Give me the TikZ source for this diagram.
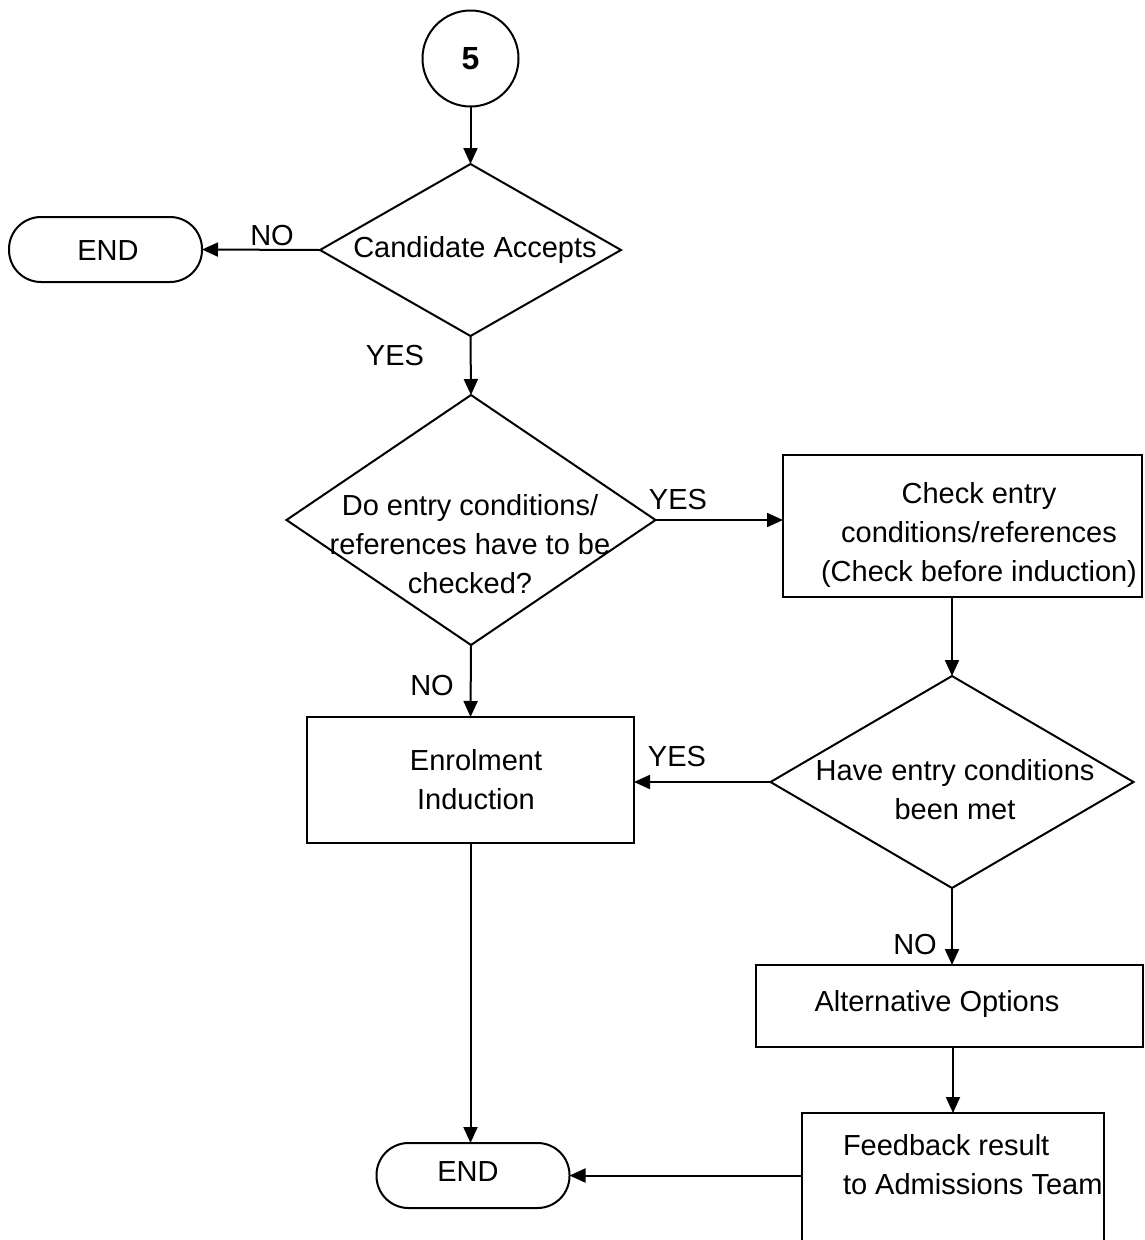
\documentclass[tikz,border=0pt]{standalone}
\usepackage{fontspec}
\setmainfont{Liberation Sans}
\usetikzlibrary{shapes.geometric,arrows.meta}
\begin{document}
\begin{tikzpicture}[x=1pt,y=-1pt,line width=2pt,
  font=\fontsize{29}{39}\selectfont,
  flow/.style={-{Triangle[length=16pt,width=14pt]}},
  decision/.style={draw,diamond,inner sep=0pt,outer sep=0pt},
  procbox/.style={draw,rectangle,inner sep=0pt,outer sep=0pt},
  terminal/.style={draw,rectangle,rounded corners=32pt,inner sep=0pt,outer sep=0pt,
    minimum width=193pt,minimum height=65pt},
  connector/.style={draw,circle,inner sep=0pt,outer sep=0pt,minimum size=96pt,
    font=\fontsize{32}{36}\selectfont\bfseries},
  txt/.style={align=center,inner sep=0pt},
  lbl/.style={inner sep=0pt}]
\useasboundingbox (0,0) rectangle (1144,1240);
\clip (0,0) rectangle (1144,1240);

% shapes
\node[connector] (c5) at (470.5,58.5) {5};
\node[decision,minimum width=301pt,minimum height=172pt] (d1) at (470.5,250) {};
\node[terminal] (end1) at (105.5,249.5) {};
\node[decision,minimum width=369pt,minimum height=250pt] (d2) at (471,520) {};
\node[procbox,minimum width=359pt,minimum height=142pt] (box1) at (962.5,526) {};
\node[decision,minimum width=363pt,minimum height=212pt] (d3) at (952,782) {};
\node[procbox,minimum width=327pt,minimum height=126pt] (box2) at (470.5,780) {};
\node[procbox,minimum width=387pt,minimum height=82pt] (box3) at (949.5,1006) {};
\node[procbox,minimum width=302pt,minimum height=160pt] (box4) at (953,1193) {};
\node[terminal] (end2) at (473,1175.5) {};

% texts
\node[txt] (t1) at (475,250) {Candidate Accepts};
\node[txt] (t2) at (108,251) {END};
\node[txt] (t3) at (470,544) {Do entry conditions/\\references have to be\\checked?};
\node[txt] (t4) at (979,535) {Check entry\\conditions/references\\(Check before induction)};
\node[txt] (t5) at (955,790) {Have entry conditions\\been met};
\node[txt] (t6) at (476,780) {Enrolment\\Induction};
\node[txt] (t7) at (937,1004) {Alternative Options};
\node[txt,align=left,anchor=west] (t8) at (842,1165) {Feedback result\\to Admissions Team};
\node[txt] (t9) at (468,1172) {END};

% connectors
\draw[flow] (c5.south) -- (d1.north);
\draw[flow] (d1.west) -- (end1.east);
\draw[flow] (d1.south) -- (d2.north);
\draw[flow] (d2.east) -- (d2.east -| box1.west);
\draw[flow] (d3.north |- box1.south) -- (d3.north);
\draw[flow] (d3.west) -- (d3.west -| box2.east);
\draw[flow] (d2.south) -- (box2.north);
\draw[flow] (box2.south) -- (box2.south |- end2.north);
\draw[flow] (d3.south) -- (d3.south |- box3.north);
\draw[flow] (box4.north |- box3.south) -- (box4.north);
\draw[flow] (box4.west |- end2.east) -- (end2.east);

% branch labels
\node[lbl] (l1) at (272,236) {NO};
\node[lbl] (l2) at (395,356) {YES};
\node[lbl] (l3) at (678,500) {YES};
\node[lbl] (l4) at (432,686) {NO};
\node[lbl] (l5) at (677,757) {YES};
\node[lbl] (l6) at (915,945) {NO};
\end{tikzpicture}
\end{document}
